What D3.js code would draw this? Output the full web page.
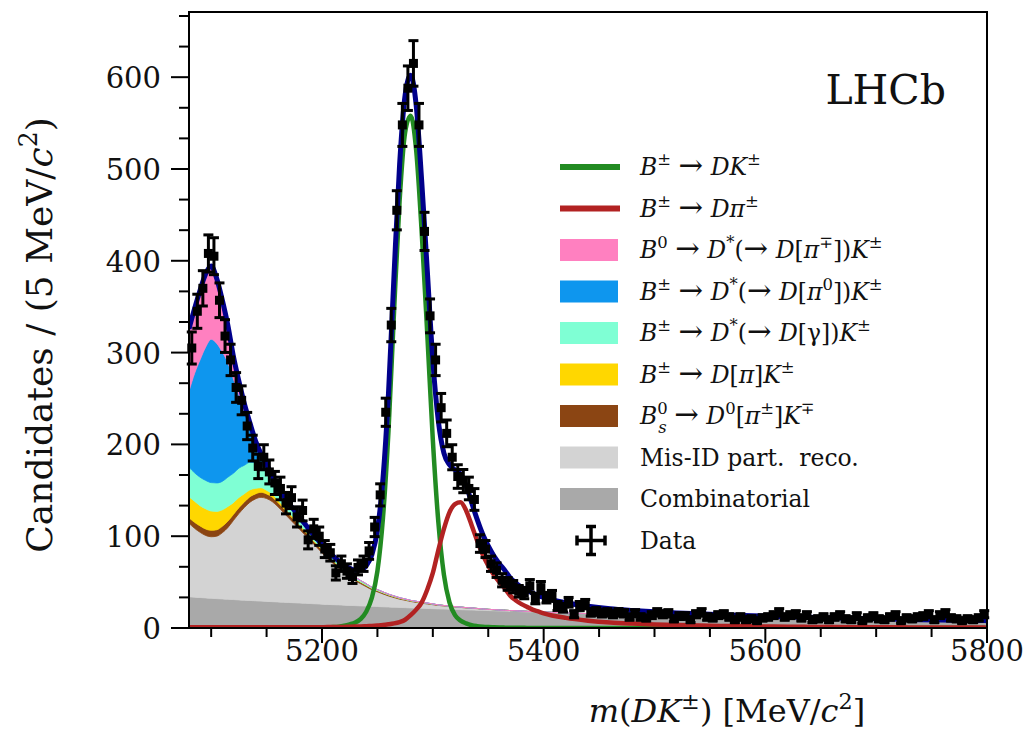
<!DOCTYPE html>
<html>
<head>
<meta charset="utf-8">
<script src="https://cdn.jsdelivr.net/npm/d3@7"></script>
<style>
  body { margin: 0; background: #fff; }
  text { font-family: "DejaVu Serif", "Liberation Serif", serif; fill: #111; white-space: pre; }
</style>
</head>
<body>
<script>
// ---- data: candidates per 5 MeV bin, first bin centred at 5082.5 ----
var dataCounts = [
  305,345,370,408,405,357,318,292,262,248,   // 5082.5 - 5127.5
  220,196,176,186,170,158,152,136,142,121,   // 5132.5
  128,96,108,100,86,82,60,70,62,56,          // 5182.5
  66,70,84,110,145,235,330,455,548,588,      // 5232.5
  615,548,432,340,292,240,212,186,165,160,   // 5282.5
  152,140,92,86,70,63,52,48,45,40,           // 5332.5
  38,46,32,44,33,35,24,22,28,15,             // 5382.5
  24,26,17,18,16,17,15,17,16,12,             // 5432.5
  16,12,11,14,17,15,16,10,13,13,             // 5482.5
  9,15,17,12,11,14,15,12,9,12,               // 5532.5
  9,10,8,11,12,14,17,12,14,15,               // 5582.5
  11,14,9,10,12,9,12,14,10,9,                // 5632.5
  13,8,11,13,10,9,12,14,8,11,                // 5682.5
  10,12,13,15,9,14,16,11,10,8,               // 5732.5
  10,9,11,15                                 // 5782.5
];

// ---- fit components, sampled on fitMass (missing entries are zero) ----
var fitMass = d3.range(5080, 5401, 5).concat(d3.range(5420, 5801, 20));

var combinatorial = [
  34,33.6,33.2,32.8,32.4,32,31.7,31.3,31,30.6,
  30.3,30,29.6,29.3,29,28.7,28.4,28.1,27.8,27.5,
  27.2,26.9,26.6,26.3,26,25.7,25.4,25.2,24.9,24.6,
  24.4,24.1,23.9,23.6,23.4,23.1,22.9,22.6,22.4,22.2,
  21.9,21.7,21.5,21.3,21.1,20.8,20.6,20.4,20.2,20,
  19.8,19.6,19.4,19.2,19,18.8,18.6,18.4,18.2,18,
  17.8,17.6,17.4,17.2,17,
  16.3,15.6,15,14.4,13.8,13.2,12.7,12.2,11.7,11.2,10.8,10.4,10,9.6,9.2,8.9,8.5,8.2,7.9,7.6
];
var misIdPartReco = [
  80,75,71,68,67,68,72,78,86,94,
  101,107,111,113,112,109,104,98,92,86,
  80,74,68,62,56,50,45,40,35,31,
  27,24,21,18,16,14,12,10.5,9,8,
  7,6.2,5.5,4.9,4.3,3.8,3.4,3,2.7,2.4,
  2.1,1.9,1.7,1.5,1.3,1.2,1,0.9,0.8,0.7,
  0.6,0.5,0.5,0.4,0.4,
  0.2,0.1
];
var bsD0PiK = [
  6,6.5,7,7,7,7,7,7,6.5,6.5,
  6,6,5.5,5.5,5,5,4.5,4.5,4,4,
  3.5,3.5,3,3,2.8,2.6,2.4,2.2,2,1.9,
  1.8,1.7,1.6,1.5,1.4,1.3,1.2,1.1,1,0.9,
  0.8,0.8,0.7,0.7,0.6,0.6,0.5,0.5,0.4,0.4,
  0.3,0.3,0.2
];
var dPiK = [
  23,23,22,22,21,20,18,16,13,11,
  9,7.5,6,5,4,3.4,2.8,2.4,2,1.7,
  1.4,1.2,1,0.9,0.8,0.7,0.6,0.5,0.4,0.3,
  0.3,0.2,0.2,0.1,0.1
];
var dstGammaK = [
  32,31,31,31,31,31,31,32,32,32,
  31,30,28,25,22,17,12,10,9,8,
  7,6,5.2,4.5,4,3.5,3,2.6,2.3,2,
  1.8,1.6,1.4,1.2,1,0.9,0.8,0.7,0.6,0.5,
  0.4,0.4,0.3,0.3,0.2
];
var dstPi0K = [
  83,108,128,145,156,152,141,125,103,80,
  58,38,21,10,5,2.5,1.2,0.6,0.3
];
var b0DstPiK = [
  67,70,75,79,79,70,56,40,24,14,
  8,4,2,1,0.5
];
var signalDK = [
  0,0,0,0,0,0,0,0,0,0,
  0,0,0,0,0,0,0.1,0.1,0.1,0.2,
  0.2,0.3,0.3,0.4,0.5,0.7,1,1.5,2.5,4,
  6,10,18,33,62,120,215,345,465,540,
  558,520,430,320,205,115,58,28,14,8,
  5,3,2,1.4,1,0.7,0.5,0.4,0.3,0.2,
  0.2,0.1,0.1,0,0
];
var misIdDPi = [
  0.8,0.8,0.8,0.8,0.8,0.8,0.8,0.8,0.8,0.8,
  0.8,0.8,0.8,0.8,0.8,0.8,0.8,0.8,0.8,0.8,
  0.8,0.8,0.8,0.8,0.9,1,1,1.1,1.2,1.3,
  1.5,1.7,2,2.3,2.7,3.2,4,5,6.5,9,
  14,20,28,42,60,85,108,126,135,137,
  128,112,95,80,68,58,50,43,35,30,
  26,23,20,18,16,
  11,8,6,4.8,3.9,3.2,2.7,2.3,2,1.7,1.4,1.2,1,0.9,0.8,0.7,0.6,0.5,0.5,0.4
];

var xTicks = [5200, 5400, 5600, 5800];
var yTicks = [0, 100, 200, 300, 400, 500, 600];

// stacking order, bottom to top
var stackKeys = ['combinatorial', 'misIdPartReco', 'bsD0PiK', 'dPiK', 'dstGammaK', 'dstPi0K', 'b0DstPiK'];
var stackSeries = {
  combinatorial: combinatorial, misIdPartReco: misIdPartReco, bsD0PiK: bsD0PiK,
  dPiK: dPiK, dstGammaK: dstGammaK, dstPi0K: dstPi0K, b0DstPiK: b0DstPiK
};
var colors = {
  combinatorial: '#a9a9a9', misIdPartReco: '#d3d3d3', bsD0PiK: '#8b4513',
  dPiK: '#ffd700', dstGammaK: '#7fffd4', dstPi0K: '#0e96ee', b0DstPiK: '#ff80c0',
  signalDK: '#228b22', misIdDPi: '#b22222', total: '#00008b'
};

// legend labels: [text, style]  (i = italic, sup/sub = raised/lowered, a = arrow)
var legendEntries = [
  { kind: 'line', color: 'signalDK', label: [['B','i'],['\u00b1','sup'],[' ',''],['\u2192','a'],[' ',''],['DK','i'],['\u00b1','sup']] },
  { kind: 'line', color: 'misIdDPi', label: [['B','i'],['\u00b1','sup'],[' ',''],['\u2192','a'],[' ',''],['D\u03c0','i'],['\u00b1','sup']] },
  { kind: 'box', color: 'b0DstPiK', label: [['B','i'],['0','sup'],[' ',''],['\u2192','a'],[' ',''],['D','i'],['*','sup'],['(',''],['\u2192','a'],[' ',''],['D','i'],['[',''],['\u03c0','i'],['\u2213','sup'],['])',''],['K','i'],['\u00b1','sup']] },
  { kind: 'box', color: 'dstPi0K', label: [['B','i'],['\u00b1','sup'],[' ',''],['\u2192','a'],[' ',''],['D','i'],['*','sup'],['(',''],['\u2192','a'],[' ',''],['D','i'],['[',''],['\u03c0','i'],['0','sup'],['])',''],['K','i'],['\u00b1','sup']] },
  { kind: 'box', color: 'dstGammaK', label: [['B','i'],['\u00b1','sup'],[' ',''],['\u2192','a'],[' ',''],['D','i'],['*','sup'],['(',''],['\u2192','a'],[' ',''],['D','i'],['[\u03b3])',''],['K','i'],['\u00b1','sup']] },
  { kind: 'box', color: 'dPiK', label: [['B','i'],['\u00b1','sup'],[' ',''],['\u2192','a'],[' ',''],['D','i'],['[',''],['\u03c0','i'],[']',''],['K','i'],['\u00b1','sup']] },
  { kind: 'box', color: 'bsD0PiK', label: [['B','i'],['0','sup'],['s','isub',-0.4],[' ',''],['\u2192','a'],[' ',''],['D','i'],['0','sup'],['[',''],['\u03c0','i'],['\u00b1','sup'],[']',''],['K','i'],['\u2213','sup']] },
  { kind: 'box', color: 'misIdPartReco', label: [['Mis-ID part.  reco.','']] },
  { kind: 'box', color: 'combinatorial', label: [['Combinatorial','']] },
  { kind: 'data', color: 'data', label: [['Data','']] }
];

// ---- layout ----
var width = 1026, height = 741;
var margin = { left: 189, right: 39, top: 12, bottom: 113 };

var svg = d3.select('body').append('svg')
  .attr('width', width)
  .attr('height', height);

var x = d3.scaleLinear().domain([5080, 5800]).range([margin.left, width - margin.right]);
var y = d3.scaleLinear().domain([0, 671]).range([height - margin.bottom, margin.top]);

svg.append('clipPath').attr('id', 'plot-clip')
  .append('rect')
    .attr('x', x(5080)).attr('y', y(671))
    .attr('width', x(5800) - x(5080)).attr('height', y(0) - y(671));

var rows = fitMass.map(function(m, i) {
  var row = { mass: m };
  stackKeys.forEach(function(k) { row[k] = stackSeries[k][i] || 0; });
  row.signalDK = signalDK[i] || 0;
  row.misIdDPi = misIdDPi[i] || 0;
  row.total = d3.sum(stackKeys, function(k) { return row[k]; }) + row.signalDK + row.misIdDPi;
  return row;
});

var stacked = d3.stack().keys(stackKeys)(rows);

var plot = svg.append('g').attr('clip-path', 'url(#plot-clip)');

var area = d3.area()
  .curve(d3.curveMonotoneX)
  .x(function(d) { return x(d.data.mass); })
  .y0(function(d) { return y(d[0]); })
  .y1(function(d) { return y(d[1]); });

plot.selectAll('path.band').data(stacked)
  .enter().append('path')
    .attr('class', 'band')
    .attr('d', area)
    .attr('fill', function(s) { return colors[s.key]; })
    .attr('stroke', function(s) { return colors[s.key]; })
    .attr('stroke-width', 0.8);

function fitLine(key) {
  return d3.line()
    .curve(d3.curveMonotoneX)
    .x(function(d) { return x(d.mass); })
    .y(function(d) { return y(d[key]); });
}

['signalDK', 'misIdDPi', 'total'].forEach(function(key) {
  plot.append('path')
    .datum(rows)
    .attr('d', fitLine(key))
    .attr('fill', 'none')
    .attr('stroke', colors[key])
    .attr('stroke-width', key === 'total' ? 5 : 4.5)
    .attr('stroke-linejoin', 'round');
});

// data points with Poisson errors
var points = dataCounts.map(function(n, i) {
  return { mass: 5082.5 + 5 * i, n: n, err: Math.sqrt(n) };
});

var pts = svg.append('g').selectAll('g.pt').data(points)
  .enter().append('g').attr('class', 'pt');

pts.append('line')
  .attr('x1', function(d) { return x(d.mass); })
  .attr('x2', function(d) { return x(d.mass); })
  .attr('y1', function(d) { return y(d.n - d.err); })
  .attr('y2', function(d) { return y(d.n + d.err); })
  .attr('stroke', '#000').attr('stroke-width', 3);
pts.append('line')
  .attr('x1', function(d) { return x(d.mass - 2.5); })
  .attr('x2', function(d) { return x(d.mass + 2.5); })
  .attr('y1', function(d) { return y(d.n); })
  .attr('y2', function(d) { return y(d.n); })
  .attr('stroke', '#000').attr('stroke-width', 3);
[-1, 1].forEach(function(sgn) {
  pts.append('line')
    .attr('x1', function(d) { return x(d.mass) - 5; })
    .attr('x2', function(d) { return x(d.mass) + 5; })
    .attr('y1', function(d) { return y(d.n + sgn * d.err); })
    .attr('y2', function(d) { return y(d.n + sgn * d.err); })
    .attr('stroke', '#000').attr('stroke-width', 3);
});
pts.append('rect')
  .attr('x', function(d) { return x(d.mass) - 4.5; })
  .attr('y', function(d) { return y(d.n) - 4.5; })
  .attr('width', 9).attr('height', 9)
  .attr('fill', '#000');

// ---- frame and axes ----
svg.append('rect')
  .attr('x', x(5080)).attr('y', y(671))
  .attr('width', x(5800) - x(5080)).attr('height', y(0) - y(671))
  .attr('fill', 'none').attr('stroke', '#000').attr('stroke-width', 2);

var xAxis = svg.append('g').attr('transform', 'translate(0,' + y(0) + ')');
xAxis.selectAll('line.minor').data(d3.range(5100, 5801, 50))
  .enter().append('line')
    .attr('x1', x).attr('x2', x)
    .attr('y1', 0).attr('y2', function(v) { return xTicks.indexOf(v) >= 0 ? 15 : 9; })
    .attr('stroke', '#000').attr('stroke-width', 2);
xAxis.selectAll('text').data(xTicks)
  .enter().append('text')
    .attr('x', x).attr('y', 33)
    .attr('text-anchor', 'middle')
    .attr('font-size', 29)
    .text(function(v) { return v; });

var yAxis = svg.append('g').attr('transform', 'translate(' + x(5080) + ',0)');
yAxis.selectAll('line.tick').data(d3.range(0, 671, 100 / 3))
  .enter().append('line')
    .attr('y1', y).attr('y2', y)
    .attr('x1', 0).attr('x2', function(v, i) { return i % 3 === 0 ? -18 : -10; })
    .attr('stroke', '#000').attr('stroke-width', 2);
yAxis.selectAll('text').data(yTicks)
  .enter().append('text')
    .attr('x', -28).attr('y', function(v) { return y(v) + 11; })
    .attr('text-anchor', 'end')
    .attr('font-size', 29)
    .text(function(v) { return v; });

// rich text helper
function mathText(sel, parts, size) {
  var shift = 0;
  parts.forEach(function(p) {
    var st = p[1];
    var target = st.indexOf('sup') >= 0 ? -0.42 * size : (st.indexOf('sub') >= 0 ? 0.38 * size : 0);
    var t = sel.append('tspan').text(p[0]).attr('dy', target - shift);
    shift = target;
    if (target !== 0) t.attr('font-size', size * 0.7);
    if (st === 'a') t.attr('font-size', size * 1.25);
    if (st.charAt(0) === 'i') t.attr('font-style', 'italic');
    if (p[2]) t.attr('dx', p[2] * size);
  });
}

// axis titles
var yTitle = svg.append('text')
  .attr('transform', 'translate(52,335) rotate(-90)')
  .attr('text-anchor', 'middle')
  .attr('font-size', 36);
mathText(yTitle, [['Candidates / (5 MeV/',''],['c','i'],['2','sup'],[')','']], 36);

var xTitle = svg.append('text')
  .attr('x', 727).attr('y', 722)
  .attr('text-anchor', 'middle')
  .attr('font-size', 32);
mathText(xTitle, [['m','i'],['(',''],['DK','i'],['\u00b1','sup'],[') [MeV/',''],['c','i'],['2','sup'],[']','']], 32);

svg.append('text')
  .attr('x', 946).attr('y', 104)
  .attr('text-anchor', 'end')
  .attr('font-size', 41)
  .text('LHCb');

// ---- legend ----
var legend = svg.append('g');
var legendRows = legend.selectAll('g').data(legendEntries)
  .enter().append('g')
    .attr('transform', function(d, i) { return 'translate(560,' + (167 + i * 41.5) + ')'; });

legendRows.each(function(d) {
  var g = d3.select(this);
  if (d.kind === 'line') {
    g.append('line').attr('x1', 0).attr('x2', 60).attr('y1', 0).attr('y2', 0)
      .attr('stroke', colors[d.color]).attr('stroke-width', 6);
  } else if (d.kind === 'box') {
    g.append('rect').attr('x', 0).attr('y', -11).attr('width', 58).attr('height', 22)
      .attr('fill', colors[d.color]);
  } else {
    g.append('line').attr('x1', 17).attr('x2', 45).attr('y1', 0).attr('y2', 0)
      .attr('stroke', '#000').attr('stroke-width', 3.5);
    g.append('line').attr('x1', 31).attr('x2', 31).attr('y1', -14).attr('y2', 14)
      .attr('stroke', '#000').attr('stroke-width', 3.5);
    [[17, 17, -5, 5], [45, 45, -5, 5], [26, 36, -14, -14], [26, 36, 14, 14]].forEach(function(c) {
      g.append('line').attr('x1', c[0]).attr('x2', c[1]).attr('y1', c[2]).attr('y2', c[3])
        .attr('stroke', '#000').attr('stroke-width', 3.5);
    });
  }
  var t = g.append('text').attr('x', 80).attr('y', 8).attr('font-size', 23.5);
  mathText(t, d.label, 23.5);
});
</script>
</body>
</html>
